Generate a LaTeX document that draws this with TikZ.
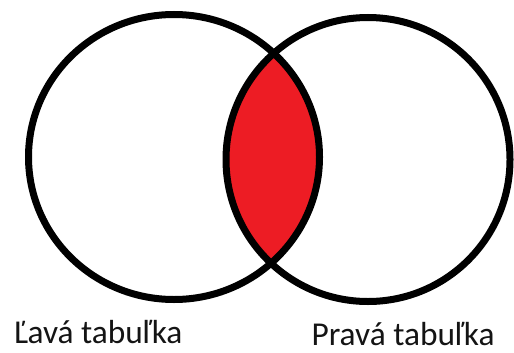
\documentclass[tikz,border=0pt]{standalone}
\usepackage{fontspec}
\setmainfont{Carlito}
\usepackage{tikz}
\usetikzlibrary{positioning}
\definecolor{LensRed}{RGB}{237,28,36}
\definecolor{LabelInk}{RGB}{20,20,20}

\begin{document}
\begin{tikzpicture}[x=1bp, y=1bp, line width=7bp]
    \useasboundingbox (0,0) rectangle (514,352);
    % Ellipse sizes
    \def\lx{174} \def\ly{195} \def\lrx{145.5} \def\lry{142.5}
    \def\rx{368} \def\ry{192.5} \def\rr{142}
    % Intersection
    \begin{scope}
        \clip (\lx,\ly) ellipse [x radius=\lrx, y radius=\lry];
        \fill[LensRed] (\rx,\ry) circle [radius=\rr];
    \end{scope}
    % Outlines
    \draw (\lx,\ly) ellipse [x radius=\lrx, y radius=\lry];
    \draw (\rx,\ry) circle [radius=\rr];
    % Labels
    \node[anchor=base west, inner sep=0pt, font=\fontsize{33.5}{38}\selectfont, LabelInk] (left) at (10,9) {Ľavá tabuľka};
    \node[anchor=base west, inner sep=0pt, font=\fontsize{33.5}{38}\selectfont, LabelInk] (right) at (308,7) {Pravá tabuľka};
\end{tikzpicture}
\end{document}
